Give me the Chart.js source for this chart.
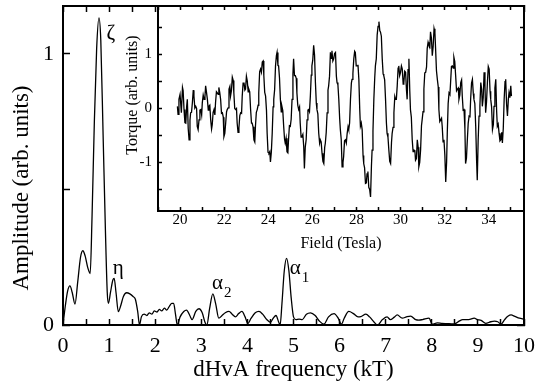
<!DOCTYPE html>
<html>
<head>
<meta charset="utf-8">
<script src="https://cdn.jsdelivr.net/npm/chart.js@4.4.1/dist/chart.umd.min.js"></script>
<style>
  html, body { margin:0; padding:0; background:#fff; }
  #wrap { position:relative; width:537px; height:388px; }
  #wrap canvas { position:absolute; left:0; top:0; }
</style>
</head>
<body>
<div id="wrap">
  <canvas id="spectrum" width="537" height="388"></canvas>
  <canvas id="inset" width="537" height="388"></canvas>
</div>
<script>
// ── Data: dHvA spectrum (main panel) ─────────────────────────────

const freqKT = [
  0.00, 0.05, 0.10, 0.15, 0.20, 0.26, 0.32, 0.38, 0.43, 0.48, 0.54, 0.59, 0.63, 0.68, 0.73, 0.78,
  0.82, 0.87, 0.92, 0.96, 0.985, 1.03, 1.08, 1.11, 1.15, 1.20, 1.25, 1.31, 1.38, 1.45, 1.52, 1.57,
  1.62, 1.66, 1.70, 1.76, 1.82, 1.87, 1.93, 1.98, 2.04, 2.09, 2.14, 2.20, 2.25, 2.31, 2.36, 2.40,
  2.44, 2.48, 2.54, 2.62, 2.68, 2.75, 2.80, 2.88, 2.95, 3.02, 3.08, 3.12, 3.18, 3.25, 3.31, 3.38,
  3.45, 3.52, 3.60, 3.67, 3.74, 3.81, 3.88, 3.95, 4.01, 4.08, 4.17, 4.25, 4.33, 4.42, 4.50, 4.56,
  4.62, 4.68, 4.71, 4.75, 4.80, 4.85, 4.90, 4.95, 5.00, 5.05, 5.12, 5.19, 5.28, 5.37, 5.47, 5.56,
  5.66, 5.76, 5.88, 5.97, 6.04, 6.10, 6.20, 6.30, 6.40, 6.46, 6.57, 6.65, 6.75, 6.82, 6.93, 7.03,
  7.10, 7.18, 7.25, 7.36, 7.45, 7.54, 7.65, 7.72, 7.80, 7.94, 8.01, 8.12, 8.22, 8.34, 8.43, 8.52,
  8.60, 8.67, 8.80, 8.92, 8.99, 9.07, 9.17, 9.28, 9.36, 9.43, 9.50, 9.58, 9.65, 9.72, 9.80, 9.90,
  10.0
];
const amplitude = [
  0.000, 0.070, 0.125, 0.144, 0.120, 0.077, 0.160, 0.250, 0.274, 0.255, 0.210, 0.190, 0.400, 0.750, 1.020, 1.133,
  1.050, 0.700, 0.350, 0.120, 0.080, 0.120, 0.165, 0.172, 0.120, 0.049, 0.070, 0.105, 0.119, 0.115, 0.105, 0.095,
  0.050, 0.000, 0.030, 0.040, 0.035, 0.045, 0.040, 0.052, 0.048, 0.058, 0.052, 0.062, 0.055, 0.070, 0.080, 0.080,
  0.040, 0.000, 0.030, 0.050, 0.055, 0.035, 0.020, 0.050, 0.060, 0.045, 0.010, 0.000, 0.060, 0.115, 0.080, 0.025,
  0.035, 0.045, 0.050, 0.040, 0.030, 0.042, 0.050, 0.030, 0.005, 0.025, 0.045, 0.050, 0.040, 0.020, 0.010, 0.025,
  0.035, 0.010, 0.000, 0.080, 0.200, 0.246, 0.200, 0.100, 0.030, 0.020, 0.022, 0.020, 0.040, 0.045, 0.035, 0.015,
  0.003, 0.030, 0.042, 0.025, 0.003, 0.025, 0.050, 0.042, 0.030, 0.031, 0.040, 0.030, 0.010, 0.000, 0.020, 0.030,
  0.020, 0.028, 0.037, 0.025, 0.030, 0.033, 0.020, 0.018, 0.020, 0.025, 0.003, 0.008, 0.006, 0.005, 0.004, 0.006,
  0.015, 0.020, 0.020, 0.025, 0.020, 0.017, 0.006, 0.012, 0.014, 0.012, 0.003, 0.020, 0.032, 0.037, 0.032, 0.025,
  0.022
];
const freqTicks = [0, 0.5, 1, 1.5, 2, 2.5, 3, 3.5, 4, 4.5, 5, 5.5, 6, 6.5, 7, 7.5, 8, 8.5, 9, 9.5, 10];
const ampTicks = [0, 0.5, 1];

// ── Data: torque trace (inset) ───────────────────────────────────

const fieldT = [
  19.88, 19.91, 19.95, 20.00, 20.06, 20.11, 20.14, 20.18, 20.22, 20.26,
  20.30, 20.33, 20.37, 20.41, 20.45, 20.48, 20.52, 20.56, 20.60, 20.63,
  20.67, 20.71, 20.75, 20.78, 20.82, 20.86, 20.90, 20.94, 20.98, 21.01,
  21.05, 21.09, 21.13, 21.16, 21.20, 21.24, 21.28, 21.31, 21.35, 21.39,
  21.43, 21.46, 21.50, 21.54, 21.58, 21.61, 21.65, 21.69, 21.73, 21.76,
  21.80, 21.84, 21.88, 21.92, 21.96, 21.99, 22.03, 22.07, 22.11, 22.14,
  22.18, 22.22, 22.26, 22.29, 22.33, 22.37, 22.41, 22.44, 22.48, 22.52,
  22.56, 22.59, 22.63, 22.67, 22.71, 22.75, 22.79, 22.82, 22.86, 22.90,
  22.94, 22.97, 23.01, 23.05, 23.09, 23.12, 23.16, 23.20, 23.24, 23.27,
  23.31, 23.35, 23.39, 23.42, 23.46, 23.50, 23.54, 23.57, 23.61, 23.65,
  23.69, 23.73, 23.77, 23.80, 23.84, 23.88, 23.92, 23.95, 23.99, 24.03,
  24.07, 24.10, 24.14, 24.18, 24.22, 24.25, 24.29, 24.33, 24.37, 24.40,
  24.44, 24.47, 24.51, 24.55, 24.59, 24.62, 24.66, 24.70, 24.74, 24.77,
  24.81, 24.85, 24.89, 24.92, 24.96, 25.00, 25.04, 25.08, 25.12, 25.15,
  25.19, 25.23, 25.27, 25.30, 25.34, 25.38, 25.42, 25.45, 25.49, 25.53,
  25.57, 25.61, 25.64, 25.68, 25.72, 25.76, 25.80, 25.83, 25.87, 25.91,
  25.95, 25.98, 26.02, 26.06, 26.10, 26.14, 26.18, 26.21, 26.25, 26.29,
  26.33, 26.36, 26.40, 26.44, 26.48, 26.52, 26.56, 26.59, 26.63, 26.67,
  26.71, 26.74, 26.78, 26.82, 26.86, 26.89, 26.93, 26.97, 27.01, 27.05,
  27.09, 27.12, 27.16, 27.20, 27.24, 27.27, 27.31, 27.35, 27.39, 27.42,
  27.46, 27.50, 27.54, 27.58, 27.62, 27.65, 27.69, 27.73, 27.77, 27.80,
  27.84, 27.88, 27.92, 27.95, 27.99, 28.03, 28.07, 28.11, 28.15, 28.18,
  28.22, 28.26, 28.30, 28.33, 28.37, 28.41, 28.45, 28.48, 28.52, 28.56,
  28.60, 28.64, 28.68, 28.71, 28.75, 28.79, 28.83, 28.86, 28.90, 28.94,
  28.98, 29.02, 29.06, 29.09, 29.13, 29.17, 29.21, 29.24, 29.28, 29.32,
  29.36, 29.39, 29.43, 29.47, 29.51, 29.55, 29.59, 29.62, 29.66, 29.70,
  29.74, 29.77, 29.81, 29.85, 29.89, 29.92, 29.96, 30.00, 30.04, 30.08,
  30.12, 30.15, 30.19, 30.23, 30.27, 30.30, 30.34, 30.38, 30.42, 30.45,
  30.49, 30.53, 30.57, 30.61, 30.65, 30.68, 30.72, 30.76, 30.80, 30.83,
  30.87, 30.91, 30.95, 30.98, 31.02, 31.06, 31.10, 31.14, 31.18, 31.21,
  31.25, 31.29, 31.33, 31.36, 31.40, 31.44, 31.48, 31.52, 31.56, 31.59,
  31.63, 31.67, 31.71, 31.74, 31.78, 31.82, 31.86, 31.89, 31.93, 31.97,
  32.01, 32.05, 32.09, 32.12, 32.16, 32.20, 32.24, 32.27, 32.31, 32.35,
  32.39, 32.42, 32.46, 32.50, 32.54, 32.58, 32.62, 32.65, 32.69, 32.73,
  32.77, 32.80, 32.84, 32.88, 32.92, 32.95, 32.99, 33.03, 33.07, 33.11,
  33.15, 33.18, 33.22, 33.26, 33.30, 33.33, 33.37, 33.41, 33.45, 33.48,
  33.52, 33.56, 33.60, 33.64, 33.68, 33.71, 33.75, 33.79, 33.83, 33.86,
  33.90, 33.94, 33.98, 34.02, 34.06, 34.09, 34.13, 34.17, 34.21, 34.24,
  34.28, 34.32, 34.36, 34.39, 34.43, 34.47, 34.51, 34.55, 34.59, 34.62,
  34.66, 34.70, 34.74, 34.77, 34.81, 34.85, 34.89, 34.92, 34.96, 35.00,
  35.03
];
const torque = [
   0.04, -0.11,  0.17,  0.26, -0.08,  0.39,  0.33, -0.02, -0.26, -0.27,
   0.04,  0.17, -0.37, -0.58, -0.22, -0.08, -0.07,  0.11,  0.34,  0.23,
   0.01,  0.04,  0.00, -0.33, -0.39, -0.21, -0.03, -0.02, -0.12,  0.11,
   0.25,  0.17,  0.22,  0.42,  0.30,  0.17, -0.03,  0.04,  0.06, -0.21,
  -0.38, -0.30, -0.07, -0.02, -0.12,  0.11,  0.31,  0.29,  0.26,  0.39,
   0.30,  0.17, -0.09, -0.08, -0.16, -0.52, -0.46, -0.27, -0.06, -0.02,
   0.01,  0.36,  0.41,  0.23,  0.33,  0.58,  0.52,  0.29,  0.00, -0.02,
   0.00, -0.27, -0.44, -0.36, -0.13, -0.08, -0.09,  0.23,  0.47,  0.48,
   0.34,  0.36,  0.60,  0.51,  0.31,  0.36,  0.31, -0.02, -0.27, -0.27,
  -0.34, -0.58, -0.62, -0.33, -0.07, -0.02,  0.06,  0.29,  0.68,  0.73,
   0.67,  0.86,  0.88,  0.61,  0.30,  0.23, -0.03, -0.46, -0.81, -0.83,
  -0.80, -0.99, -0.81, -0.46,  0.03,  0.17,  0.35,  0.79,  0.98,  1.04,
   0.80,  0.79,  0.57,  0.17, -0.06,  0.04, -0.04, -0.33, -0.57, -0.64,
  -0.55, -0.80, -0.82, -0.58, -0.32, -0.33, -0.20,  0.17,  0.64,  0.92,
   0.61,  0.61,  0.56,  0.29,  0.06, -0.02,  0.03, -0.27, -0.53, -0.52,
  -0.48, -0.71, -1.11, -0.71, -0.58, -0.21, -0.03, -0.02, -0.06,  0.23,
   0.62,  0.79,  0.90,  1.17,  0.99,  0.48,  0.10, -0.02, -0.10, -0.46,
  -0.64, -0.58, -0.62, -0.83, -0.98, -1.02, -0.72, -0.64, -0.44, -0.08,
   0.34,  0.42,  0.60,  1.04,  0.93,  1.07,  0.88,  0.92,  1.02,  1.04,
   0.60,  0.48,  0.44,  0.17, -0.19, -0.39, -0.57, -1.08, -1.00, -0.89,
  -0.60, -0.58, -0.64, -0.46, -0.34, -0.39, -0.27,  0.17,  0.47,  0.54,
   0.65,  0.92,  1.06,  1.04,  0.79,  0.79,  0.81,  0.54, -0.02, -0.33,
  -0.27, -0.39, -0.87, -1.02, -1.10, -1.39, -1.38, -1.21, -1.17, -1.46,
  -1.50, -1.64, -1.07, -0.77, -0.42,  0.17,  0.57,  0.79,  0.92,  1.36,
   1.52,  1.61,  1.44,  1.42,  1.34,  0.92,  0.64,  0.61,  0.53,  0.17,
  -0.27, -0.46, -0.53, -0.77, -0.98, -1.02, -0.63, -0.46, -0.35, -0.08,
   0.22,  0.17,  0.17,  0.42,  0.75,  0.79,  0.61,  0.67,  0.79,  0.73,
   0.45,  0.48,  0.69,  0.67,  0.34,  0.17,  0.72,  0.92,  0.32, -0.02,
  -0.16, -0.58, -0.80, -0.77, -0.78, -0.96, -0.93, -0.58, -0.72, -1.08,
  -1.00, -0.77, -0.32, -0.21, -0.06,  0.36,  0.66,  0.67,  0.77,  1.11,
   1.23,  1.17,  1.14,  1.42,  1.31,  0.98,  1.15,  1.48,  1.40,  1.11,
   0.70,  0.54,  0.40, -0.02, -0.24, -0.21, -0.18, -0.33, -0.62, -0.58,
  -0.86, -1.36, -0.99, -0.46,  0.09,  0.29,  0.26,  0.48,  0.78,  0.79,
   0.75,  0.95,  0.87,  0.61,  0.33,  0.36,  0.38,  0.17,  0.25,  0.48,
   0.53,  0.23, -0.03, -0.02, -0.38, -1.02, -0.92, -0.58, -0.27, -0.14,
  -0.15,  0.17,  0.47,  0.54,  0.28,  0.17,  0.09, -0.33, -0.96, -1.33,
  -0.60, -0.14,  0.05,  0.48,  0.35,  0.04,  0.20,  0.67,  0.41, -0.08,
   0.12,  0.48,  0.78,  0.73,  0.32,  0.17,  0.03, -0.39, -0.30,  0.04,
   0.38,  0.54, -0.06, -0.33, -0.29, -0.46, -0.60, -0.58, -0.44, -0.64,
  -0.37,  0.17,  0.50,  0.54,  0.08, -0.14,  0.17,  0.29,  0.20,  0.42,
   0.23
];
const fieldTicks = [19, 20, 21, 22, 23, 24, 25, 26, 27, 28, 29, 30, 31, 32, 33, 34, 35];
const torqueTicks = [-1.5, -1, -0.5, 0, 0.5, 1, 1.5];

// ── Shared look ──────────────────────────────────────────────────

const serif = '"Liberation Serif", "DejaVu Serif", serif';
Chart.defaults.font.family = serif;
Chart.defaults.color = '#000';

const intLabel = v => Number.isInteger(v) ? String(v) : '';
const evenLabel = v => v % 2 === 0 ? String(v) : '';

// framed axis, ticks pointing into the plot, fixed box size,
// no extra room reserved for overhanging end labels
function axis(position, min, max, tickList, tickLen, size, more) {
  return Object.assign({
    type: 'linear', position, min, max,
    afterBuildTicks: s => { s.ticks = tickList.map(v => ({ value: v })); },
    afterFit: s => {
      if (s.isHorizontal()) s.height = size; else s.width = size;
      s.paddingLeft = s.paddingRight = s.paddingTop = s.paddingBottom = 0;
    },
    border: { display: true, color: '#000', width: 2 },
    grid: { drawOnChartArea: false, color: '#000', tickLength: -tickLen, tickWidth: 1.5 },
    ticks: { display: false, autoSkip: false }
  }, more || {});
}

function toPoints(xs, ys) {
  return xs.map((x, i) => ({ x, y: ys[i] }));
}

// ── Main panel labels ────────────────────────────────────────────

const spectrumNotes = {
  id: 'spectrumNotes',
  afterDraw(chart) {
    const { ctx, scales: { x, y } } = chart;
    const notes = [
      { sym: 'ζ', sub: '',  kT: 1.04, amp: 1.077 },
      { sym: 'η', sub: '',  kT: 1.20, amp: 0.210 },
      { sym: 'α', sub: '2', kT: 3.35, amp: 0.155 },
      { sym: 'α', sub: '1', kT: 5.04, amp: 0.210 }
    ];
    ctx.save();
    ctx.fillStyle = '#000';
    ctx.textBaseline = 'middle';
    notes.forEach(n => {
      const px = x.getPixelForValue(n.kT), py = y.getPixelForValue(n.amp);
      ctx.font = `21px ${serif}`;
      ctx.textAlign = 'center';
      ctx.fillText(n.sym, px, py);
      if (n.sub) {
        const w = ctx.measureText(n.sym).width;
        ctx.font = `15px ${serif}`;
        ctx.textAlign = 'left';
        ctx.fillText(n.sub, px + w / 2 + 1, py + 10);
      }
    });
    // y axis title
    ctx.translate(22, 188);
    ctx.rotate(-Math.PI / 2);
    ctx.font = `23px ${serif}`;
    ctx.textAlign = 'center';
    ctx.fillText('Amplitude (arb. units)', 0, 0);
    ctx.restore();
  }
};

new Chart(document.getElementById('spectrum'), {
  type: 'line',
  data: { datasets: [{
    data: toPoints(freqKT, amplitude),
    borderColor: '#000', borderWidth: 1.3, pointRadius: 0,
    cubicInterpolationMode: 'monotone', xAxisID: 'x', yAxisID: 'y'
  }]},
  options: {
    responsive: false, animation: false, events: [],
    layout: { padding: { left: 0, top: 6, right: 13, bottom: 0 } },
    plugins: { legend: { display: false }, tooltip: { enabled: false } },
    scales: {
      x: axis('bottom', 0, 10, freqTicks, 6, 63, {
        ticks: { display: true, autoSkip: false, maxRotation: 0, padding: 14,
                 font: { size: 22 }, callback: intLabel },
        title: { display: true, text: 'dHvA frequency (kT)', font: { size: 23 },
                 padding: { top: 0, bottom: 4 } }
      }),
      x2: axis('top', 0, 10, freqTicks, 6, 0),
      y: axis('left', 0, 1.177, ampTicks, 7, 63, {
        ticks: { display: true, autoSkip: false, padding: 16,
                 font: { size: 22 }, callback: intLabel }
      }),
      y2: axis('right', 0, 1.177, ampTicks, 7, 0)
    }
  },
  plugins: [spectrumNotes]
});

// ── Inset: torque vs field ───────────────────────────────────────

const insetFrame = {
  id: 'insetFrame',
  beforeDraw(chart) {
    const { ctx, chartArea: a } = chart;
    ctx.save();
    ctx.fillStyle = '#fff';
    ctx.fillRect(a.left, a.top, a.right - a.left, a.bottom - a.top);
    ctx.restore();
  },
  afterDraw(chart) {
    const { ctx } = chart;
    ctx.save();
    ctx.translate(133, 95);
    ctx.rotate(-Math.PI / 2);
    ctx.font = `16px ${serif}`;
    ctx.fillStyle = '#000';
    ctx.textAlign = 'center';
    ctx.textBaseline = 'middle';
    ctx.fillText('Torque (arb. units)', 0, 0);
    ctx.restore();
  }
};

new Chart(document.getElementById('inset'), {
  type: 'line',
  data: { datasets: [{
    data: toPoints(fieldT, torque),
    borderColor: '#000', borderWidth: 1.3, pointRadius: 0,
    tension: 0, xAxisID: 'x', yAxisID: 'y'
  }]},
  options: {
    responsive: false, animation: false, events: [],
    layout: { padding: { left: 118, top: 6, right: 13, bottom: 132 } },
    plugins: { legend: { display: false }, tooltip: { enabled: false } },
    scales: {
      x: axis('bottom', 19, 35.6, fieldTicks, 4, 45, {
        ticks: { display: true, autoSkip: false, maxRotation: 0, padding: 4,
                 font: { size: 15 }, callback: evenLabel },
        title: { display: true, text: 'Field (Tesla)', font: { size: 16 },
                 padding: { top: 0, bottom: 3 } }
      }),
      x2: axis('top', 19, 35.6, fieldTicks, 4, 0),
      y: axis('left', -1.9, 1.9, torqueTicks, 4, 40, {
        ticks: { display: true, autoSkip: false, padding: 10,
                 font: { size: 15 }, callback: intLabel }
      }),
      y2: axis('right', -1.9, 1.9, torqueTicks, 4, 0)
    }
  },
  plugins: [insetFrame]
});
</script>
</body>
</html>
